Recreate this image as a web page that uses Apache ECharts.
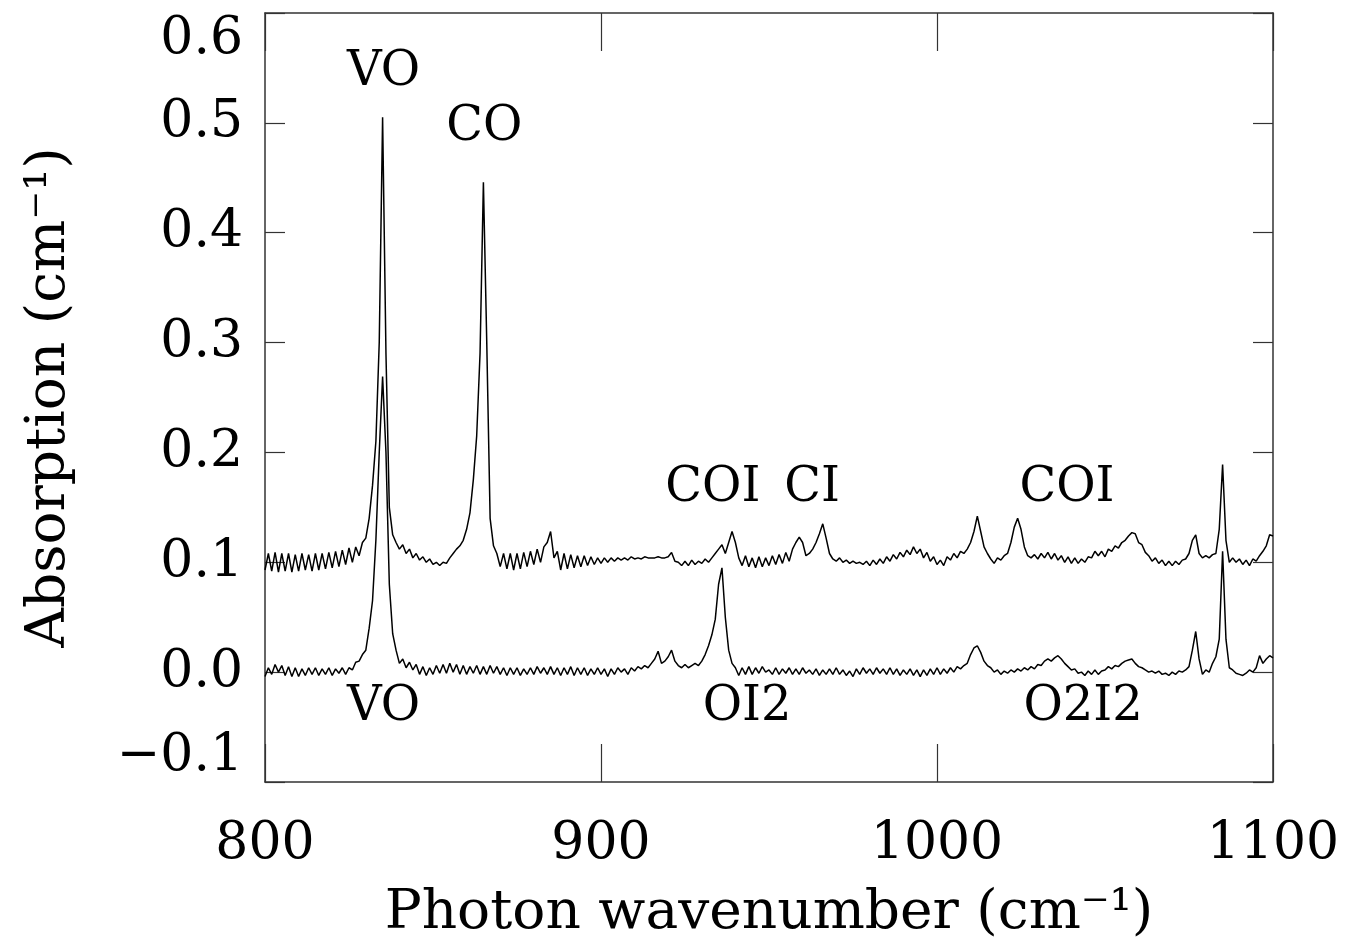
<!DOCTYPE html>
<html>
<head>
<meta charset="utf-8">
<script src="https://cdn.jsdelivr.net/npm/echarts@6/dist/echarts.min.js"></script>
<style>
  html, body { margin: 0; padding: 0; background: #fff; }
  #spectrum { width: 1347px; height: 948px; }
</style>
</head>
<body>
<div id="spectrum"></div>
<script>
// sampling grid of the spectra (cm^-1)
var waveStart = 800;
var waveStep = 1;

// upper trace, one value per cm^-1 from 800 to 1100
var upperTrace = [
  0.093, 0.108, 0.092, 0.109, 0.091, 0.108, 0.092, 0.108, 0.091, 0.107,
  0.092, 0.108, 0.093, 0.107, 0.092, 0.108, 0.093, 0.108, 0.094, 0.109,
  0.095, 0.110, 0.096, 0.111, 0.098, 0.113, 0.100, 0.114, 0.106, 0.118,
  0.122, 0.140, 0.170, 0.210, 0.300, 0.505, 0.290, 0.150, 0.125, 0.118,
  0.112, 0.116, 0.108, 0.112, 0.104, 0.108, 0.102, 0.105, 0.100, 0.103,
  0.098, 0.100, 0.097, 0.100, 0.099, 0.104, 0.108, 0.112, 0.115, 0.120,
  0.130, 0.145, 0.175, 0.215, 0.290, 0.446, 0.300, 0.140, 0.115, 0.108,
  0.096, 0.108, 0.094, 0.108, 0.093, 0.108, 0.094, 0.109, 0.096, 0.110,
  0.098, 0.112, 0.100, 0.114, 0.118, 0.128, 0.104, 0.110, 0.093, 0.108,
  0.094, 0.107, 0.095, 0.106, 0.096, 0.106, 0.097, 0.105, 0.098, 0.104,
  0.099, 0.104, 0.100, 0.104, 0.101, 0.104, 0.102, 0.104, 0.102, 0.105,
  0.103, 0.104, 0.103, 0.105, 0.104, 0.104, 0.104, 0.105, 0.104, 0.104,
  0.105, 0.109, 0.101, 0.100, 0.097, 0.101, 0.097, 0.102, 0.098, 0.101,
  0.099, 0.103, 0.100, 0.104, 0.108, 0.112, 0.116, 0.108, 0.118, 0.128,
  0.118, 0.104, 0.097, 0.106, 0.096, 0.104, 0.095, 0.105, 0.096, 0.104,
  0.097, 0.106, 0.098, 0.107, 0.099, 0.109, 0.101, 0.112, 0.118, 0.123,
  0.118, 0.106, 0.108, 0.112, 0.118, 0.126, 0.135, 0.122, 0.108, 0.103,
  0.101, 0.104, 0.100, 0.102, 0.099, 0.101, 0.099, 0.100, 0.098, 0.101,
  0.097, 0.102, 0.098, 0.103, 0.099, 0.105, 0.101, 0.107, 0.103, 0.109,
  0.105, 0.111, 0.107, 0.114, 0.108, 0.112, 0.104, 0.109, 0.101, 0.105,
  0.098, 0.102, 0.097, 0.105, 0.102, 0.108, 0.104, 0.110, 0.108, 0.112,
  0.118, 0.128, 0.142, 0.128, 0.114, 0.108, 0.103, 0.099, 0.104, 0.102,
  0.106, 0.108, 0.118, 0.132, 0.140, 0.130, 0.114, 0.106, 0.104, 0.107,
  0.103, 0.108, 0.104, 0.109, 0.103, 0.108, 0.102, 0.106, 0.100, 0.105,
  0.099, 0.104, 0.099, 0.103, 0.100, 0.105, 0.104, 0.110, 0.106, 0.110,
  0.105, 0.112, 0.110, 0.115, 0.113, 0.118, 0.120, 0.124, 0.127, 0.126,
  0.118, 0.116, 0.109, 0.106, 0.101, 0.104, 0.099, 0.102, 0.097, 0.101,
  0.097, 0.101, 0.098, 0.102, 0.103, 0.108, 0.120, 0.125, 0.108, 0.104,
  0.106, 0.104, 0.107, 0.108, 0.130, 0.189, 0.120, 0.100, 0.104, 0.100,
  0.103, 0.098, 0.102, 0.097, 0.103, 0.101, 0.106, 0.110, 0.115, 0.125,
  0.124
];

// lower trace, same grid
var lowerTrace = [
  -0.004, 0.004, -0.002, 0.007, 0.000, 0.006, -0.003, 0.005, -0.004, 0.004,
  -0.004, 0.003, -0.003, 0.004, -0.002, 0.004, -0.003, 0.003, -0.002, 0.004,
  -0.003, 0.003, -0.001, 0.004, -0.002, 0.004, 0.002, 0.009, 0.010, 0.016,
  0.020, 0.040, 0.065, 0.120, 0.200, 0.269, 0.200, 0.080, 0.035, 0.020,
  0.008, 0.012, 0.004, 0.009, 0.002, 0.007, -0.002, 0.005, -0.003, 0.004,
  -0.002, 0.006, -0.001, 0.007, -0.001, 0.008, 0.000, 0.007, -0.002, 0.006,
  -0.002, 0.005, -0.001, 0.006, -0.002, 0.005, -0.002, 0.006, -0.001, 0.005,
  -0.002, 0.004, -0.003, 0.004, -0.002, 0.004, -0.003, 0.003, -0.002, 0.004,
  -0.002, 0.005, -0.001, 0.004, -0.002, 0.005, -0.002, 0.004, -0.003, 0.004,
  -0.002, 0.005, -0.003, 0.004, -0.002, 0.004, -0.003, 0.003, -0.002, 0.004,
  -0.002, 0.003, -0.004, 0.003, -0.002, 0.004, 0.000, 0.003, -0.002, 0.004,
  0.001, 0.005, 0.003, 0.006, 0.004, 0.008, 0.012, 0.019, 0.008, 0.010,
  0.014, 0.020, 0.010, 0.006, 0.004, 0.007, 0.004, 0.006, 0.008, 0.006,
  0.010, 0.016, 0.024, 0.034, 0.048, 0.080, 0.095, 0.050, 0.020, 0.008,
  0.004, -0.003, 0.004, -0.002, 0.005, -0.002, 0.004, -0.001, 0.005, 0.000,
  0.002, -0.002, 0.004, -0.002, 0.003, -0.001, 0.004, -0.002, 0.003, -0.002,
  0.004, -0.001, 0.002, -0.002, 0.003, -0.003, 0.002, -0.002, 0.003, -0.002,
  0.004, -0.002, 0.002, -0.003, 0.001, -0.004, 0.003, -0.002, 0.004, -0.001,
  0.003, -0.002, 0.004, -0.001, 0.003, -0.002, 0.004, -0.002, 0.003, -0.003,
  0.002, -0.002, 0.003, -0.003, 0.002, -0.004, 0.002, -0.003, 0.003, -0.002,
  0.004, -0.002, 0.003, -0.001, 0.004, 0.000, 0.005, 0.003, 0.006, 0.008,
  0.016, 0.022, 0.024, 0.018, 0.010, 0.006, 0.004, 0.000, 0.002, -0.002,
  0.001, -0.001, 0.002, 0.000, 0.003, 0.001, 0.004, 0.002, 0.005, 0.003,
  0.007, 0.006, 0.010, 0.012, 0.010, 0.013, 0.015, 0.012, 0.008, 0.005,
  0.002, 0.003, -0.001, 0.000, -0.003, 0.001, -0.002, 0.002, -0.002, 0.001,
  0.002, 0.005, 0.003, 0.006, 0.005, 0.008, 0.010, 0.011, 0.012, 0.008,
  0.005, 0.004, 0.002, 0.000, 0.001, -0.001, 0.001, -0.002, -0.001, -0.003,
  0.000, -0.002, 0.001, 0.000, 0.002, 0.005, 0.020, 0.037, 0.012, -0.002,
  0.002, 0.000, 0.008, 0.014, 0.030, 0.110, 0.030, 0.004, 0.002, -0.001,
  -0.002, -0.003, -0.001, 0.002, 0.000, 0.004, 0.015, 0.008, 0.012, 0.015,
  0.013
];

// band labels and where they sit (data coordinates)
var bandNames = ['VO', 'CO', 'COI', 'CI', 'COI', 'VO', 'OI2', 'O2I2'];
var bandX     = [835.3, 865.3, 933.3, 962.8, 1038.7, 835.3, 943.5, 1043.5];
var bandY     = [0.546, 0.496, 0.167, 0.167, 0.167, -0.032, -0.032, -0.032];

var xTicks = [800, 900, 1000, 1100];

function toPairs(values) {
  var out = [];
  for (var i = 0; i < values.length; i++) {
    out.push([waveStart + i * waveStep, values[i]]);
  }
  return out;
}

var labelPoints = bandNames.map(function (n, i) {
  return { name: n, value: [bandX[i], bandY[i]] };
});

var fontFam = 'DejaVu Serif';
var frameColor = '#333';

var chart = echarts.init(document.getElementById('spectrum'));

var option = {
  backgroundColor: '#fff',
  animation: false,
  grid: { left: 265, right: 74, top: 13, bottom: 166, containLabel: false, outerBoundsMode: 'none' },
  xAxis: [{
    type: 'value',
    min: xTicks[0],
    max: xTicks[xTicks.length - 1],
    interval: 100,
    name: 'Photon wavenumber (cm\u207B\u00B9)',
    nameLocation: 'middle',
    nameGap: 104,
    nameTextStyle: { fontFamily: fontFam, fontSize: 55, color: '#000' },
    axisLine: { show: true, onZero: false, lineStyle: { color: frameColor, width: 1.5 } },
    axisTick: { show: true, inside: true, length: 38, lineStyle: { color: frameColor, width: 1.2 } },
    axisLabel: {
      fontFamily: fontFam, fontSize: 52, color: '#000', margin: 36,
      formatter: function (v) { return String(v); }
    },
    splitLine: { show: false }
  }, {
    type: 'value',
    position: 'top',
    min: xTicks[0],
    max: xTicks[xTicks.length - 1],
    interval: 100,
    axisLine: { show: true, onZero: false, lineStyle: { color: frameColor, width: 1.5 } },
    axisTick: { show: true, inside: true, length: 38, lineStyle: { color: frameColor, width: 1.2 } },
    axisLabel: { show: false },
    splitLine: { show: false }
  }],
  yAxis: [{
    type: 'value',
    min: -0.1,
    max: 0.6,
    interval: 0.1,
    name: 'Absorption (cm\u207B\u00B9)',
    nameLocation: 'middle',
    nameGap: 188,
    nameTextStyle: { fontFamily: fontFam, fontSize: 55, color: '#000' },
    axisLine: { show: true, onZero: false, lineStyle: { color: frameColor, width: 1.5 } },
    axisTick: { show: true, inside: true, length: 20, lineStyle: { color: frameColor, width: 1.2 } },
    axisLabel: {
      fontFamily: fontFam, fontSize: 52, color: '#000', margin: 22,
      verticalAlignMaxLabel: 'top',
      verticalAlignMinLabel: 'bottom',
      formatter: function (v) { return v.toFixed(1).replace('-', '\u2212'); }
    },
    splitLine: { show: false }
  }, {
    type: 'value',
    position: 'right',
    min: -0.1,
    max: 0.6,
    interval: 0.1,
    axisLine: { show: true, onZero: false, lineStyle: { color: frameColor, width: 1.5 } },
    axisTick: { show: true, inside: true, length: 20, lineStyle: { color: frameColor, width: 1.2 } },
    axisLabel: { show: false },
    splitLine: { show: false }
  }],
  series: [{
    name: 'upper',
    type: 'line',
    data: toPairs(upperTrace),
    showSymbol: false,
    lineStyle: { color: '#000', width: 1.5 },
    z: 3
  }, {
    name: 'lower',
    type: 'line',
    data: toPairs(lowerTrace),
    showSymbol: false,
    lineStyle: { color: '#000', width: 1.5 },
    z: 3
  }, {
    name: 'bands',
    type: 'scatter',
    data: labelPoints,
    symbolSize: 0,
    itemStyle: { opacity: 1 },
    label: {
      show: true,
      position: 'inside',
      formatter: '{b}',
      fontFamily: fontFam,
      fontSize: 48,
      color: '#000',
      opacity: 1,
      textBorderWidth: 0
    },
    z: 4
  }]
};

chart.setOption(option);
</script>
</body>
</html>
